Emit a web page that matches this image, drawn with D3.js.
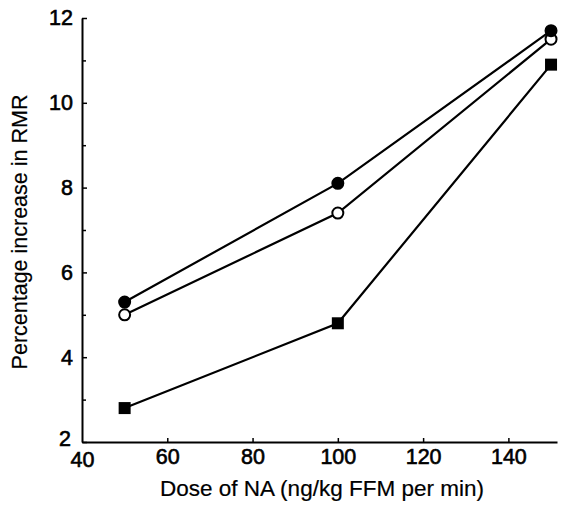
<!DOCTYPE html>
<html><head><meta charset="utf-8">
<script src="https://cdn.jsdelivr.net/npm/d3@7"></script>
<style>body{margin:0;background:#fff}svg{display:block}text{font-family:"Liberation Sans",Arial,sans-serif;fill:#000}</style>
</head><body>
<script>
const doses = [50, 100, 150];
const filledCircle = [5.3, 8.1, 11.7];
const openCircle = [5.0, 7.4, 11.5];
const filledSquare = [2.8, 4.8, 10.9];
const xTicks = [40, 60, 80, 100, 120, 140];
const yTicks = [2, 4, 6, 8, 10, 12];
const yMinor = [3, 5, 7, 9, 11];

const W = 564, H = 508;
const svg = d3.select("body").append("svg").attr("width", W).attr("height", H);
const x = d3.scaleLinear().domain([40, 151.4]).range([82, 557]);
const y = d3.scaleLinear().domain([2, 12]).range([442, 18]);

// axes
const xAxis = svg.append("g").attr("transform", `translate(0,${y(2)})`)
  .call(d3.axisBottom(x).tickValues(xTicks).tickSizeInner(-4).tickSizeOuter(0).tickPadding(7).tickFormat(d3.format("d")));
const yAxis = svg.append("g").attr("transform", `translate(${x(40)},0)`)
  .call(d3.axisLeft(y).tickValues(yTicks).tickSizeInner(-5).tickSizeOuter(0).tickPadding(9).tickFormat(d3.format("d")));
svg.append("g").attr("transform", `translate(${x(40)},0)`)
  .call(d3.axisLeft(y).tickValues(yMinor).tickSizeInner(-4).tickSizeOuter(0).tickFormat(""))
  .select(".domain").remove();
svg.selectAll(".domain").attr("stroke", "#000").attr("stroke-width", 2);
svg.selectAll(".tick line").attr("stroke", "#000").attr("stroke-width", 1.5);
svg.selectAll("g").attr("font-size", null).attr("font-family", null);
svg.selectAll(".tick text").attr("font-size", 21).style("font-size", "21.5px")
  .attr("stroke", "#000").attr("stroke-width", 0.6);
xAxis.selectAll(".tick").filter(d => d === 40).select("line").remove();
xAxis.selectAll(".tick").filter(d => d === 40).select("text").attr("dy", "0.85em");
yAxis.selectAll(".tick").filter(d => d === 2).select("text").attr("dx", "-2").attr("dy", "0.15em");

// series
const series = [
  {vals: filledSquare, type: "square"},
  {vals: openCircle, type: "open"},
  {vals: filledCircle, type: "filled"}
];
const line = d3.line().x((d, i) => x(doses[i])).y(d => y(d));
series.forEach(s => {
  svg.append("path").datum(s.vals).attr("d", line)
    .attr("fill", "none").attr("stroke", "#000").attr("stroke-width", 2.2);
});
series.forEach(s => {
  const g = svg.append("g");
  if (s.type === "square") {
    g.selectAll("rect").data(s.vals).join("rect")
      .attr("x", (d, i) => x(doses[i]) - 6).attr("y", d => y(d) - 6)
      .attr("width", 12).attr("height", 12).attr("fill", "#000");
  } else {
    g.selectAll("circle").data(s.vals).join("circle")
      .attr("cx", (d, i) => x(doses[i])).attr("cy", d => y(d)).attr("r", 5.5)
      .attr("fill", s.type === "filled" ? "#000" : "#fff")
      .attr("stroke", "#000").attr("stroke-width", 2);
  }
});

// titles
svg.append("text").attr("x", 322).attr("y", 496).attr("text-anchor", "middle")
  .style("font-size", "22.5px").attr("stroke", "#000").attr("stroke-width", 0.2)
  .text("Dose of NA (ng/kg FFM per min)");
svg.append("text").attr("transform", `translate(27,232) rotate(-90)`).attr("text-anchor", "middle")
  .style("font-size", "21.5px").attr("stroke", "#000").attr("stroke-width", 0.2)
  .text("Percentage increase in RMR");
</script>
</body></html>
